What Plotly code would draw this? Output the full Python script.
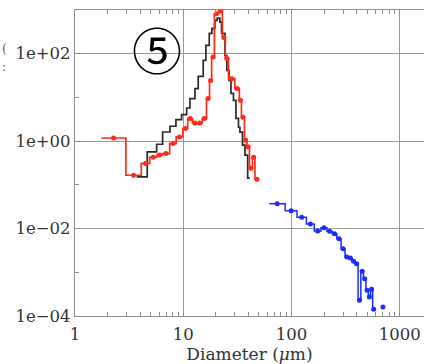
import math
import plotly.graph_objects as go

# ---- data (bin edges in micrometres, values per bin) ----
black_edges = [3.71, 4.65, 5.68, 6.45, 7.54, 8.56, 9.66, 10.75, 11.53, 12.83, 13.76,
               15.3, 16.2, 17.4, 18.4, 19.6, 20.6, 21.8, 22.6, 24.3, 25.3, 26.5, 27.6,
               29.1, 30.7, 32.4, 33.4, 35.3, 37.2, 39.4, 41.3]
black_vals = [0.152, 0.567, 0.85, 1.62, 2.19, 3.11, 4.05, 5.73, 9.4, 15.9, 30.3, 70.3,
              155, 291, 378, 576, 650, 527, 291, 91, 41.6, 24.6, 12.4, 8.6, 3.33, 2.08,
              1.6, 0.81, 0.48, 0.142]

red_edges = [1.75, 2.95, 4.1, 4.9, 5.7, 6.4, 7.5, 8.6, 9.9, 11, 12.2, 13.5, 15, 16.4,
             17.5, 18.3, 19.4, 21.2, 23, 24.5, 26.2, 30, 33, 34.5, 36.8, 38.8, 40.9,
             43.6, 46, 50]
red_vals = [1.18, 0.166, 0.31, 0.43, 0.48, 0.52, 0.88, 1.25, 1.94, 3.28, 2.6, 2.6, 3.28,
            9.4, 24.5, 84, 820, 950, 235, 78, 26.9, 15.9, 8.6, 3.5, 1.05, 0.73, 0.24,
            0.43, 0.135]

blue_edges = [62.5, 87.5, 112.5, 137.5, 162.5, 187.5, 212.5, 237.5, 262.5, 287.5, 312.5,
              337.5, 362.5, 387.5, 412.5, 437.5, 462.5, 487.5, 512.5, 537.5, 562.5,
              587.5, 612.5, 637.5, 662.5, 687.5, 712.5]
blue_vals = [0.0372, 0.0254, 0.0181, 0.0127, 0.00877, 0.0104, 0.00863, 0.0076, 0.00585,
             0.00346, 0.00223, 0.00212, 0.00178, 0.00157, 0.00023, 0.00105, 0.000714,
             0.000388, 0.000273, 0.000409, 0.000143, None, None, None, None, 0.000161]

x_ticks = [1, 10, 100, 1000]
x_ticklabels = ["1", "10", "100", "1000"]
y_ticks = [1e-4, 1e-2, 1, 1e2]
y_ticklabels = ["1e\u221204", "1e\u221202", "1e+00", "1e+02"]


def steps(edges, vals):
    xs, ys = [], []
    for i, v in enumerate(vals):
        if v is None:
            xs.append(None)
            ys.append(None)
        else:
            xs += [edges[i], edges[i + 1]]
            ys += [v, v]
    return xs, ys


def centers(edges, vals):
    cx, cy = [], []
    for i, v in enumerate(vals):
        if v is not None:
            cx.append(math.sqrt(edges[i] * edges[i + 1]))
            cy.append(v)
    return cx, cy


fig = go.Figure()

bx, by = steps(black_edges, black_vals)
fig.add_trace(go.Scatter(x=bx, y=by, mode="lines",
                         line=dict(color="#2a2a2a", width=1.7), hoverinfo="skip"))

rx, ry = steps(red_edges, red_vals)
fig.add_trace(go.Scatter(x=rx, y=ry, mode="lines",
                         line=dict(color="#ff2a1a", width=1.7), hoverinfo="skip"))
rcx, rcy = centers(red_edges, red_vals)
fig.add_trace(go.Scatter(x=rcx, y=rcy, mode="markers",
                         marker=dict(color="#ff2a1a", size=5)))

ux, uy = steps(blue_edges, blue_vals)
fig.add_trace(go.Scatter(x=ux, y=uy, mode="lines",
                         line=dict(color="#1a2cff", width=1.5), hoverinfo="skip"))
ucx, ucy = centers(blue_edges, blue_vals)
fig.add_trace(go.Scatter(x=ucx, y=ucy, mode="markers",
                         marker=dict(color="#1a2cff", size=5)))

x_minor = [m * 10 ** d for d in range(0, 4) for m in range(2, 10)]
y_minor = [1e-3, 1e-1, 10]

fig.update_layout(
    width=424, height=364,
    margin=dict(l=75, r=0, t=10, b=48),
    paper_bgcolor="white", plot_bgcolor="white",
    showlegend=False,
    font=dict(family="DejaVu Serif", size=16.5, color="#333333"),
    xaxis=dict(
        type="log", range=[0, 3.2246],
        tickmode="array", tickvals=x_ticks, ticktext=x_ticklabels,
        ticks="inside", ticklen=6, tickcolor="#8c8c8c", tickwidth=1,
        ticklabelstandoff=3,
        showgrid=True, gridcolor="#9a9a9a", gridwidth=1,
        showline=True, linecolor="#8c8c8c", linewidth=1.2, mirror="allticks",
        zeroline=False,
        minor=dict(tickmode="array", tickvals=x_minor, ticks="inside", ticklen=4,
                   tickcolor="#8c8c8c", showgrid=False),
        title=dict(text="Diameter (<i>\u03bc</i>m)", standoff=1,
                   font=dict(family="DejaVu Serif", size=17, color="#333333")),
    ),
    yaxis=dict(
        type="log", range=[-4, 3],
        tickmode="array", tickvals=y_ticks, ticktext=y_ticklabels,
        ticks="inside", ticklen=6, tickcolor="#8c8c8c", tickwidth=1,
        showgrid=True, gridcolor="#9a9a9a", gridwidth=1,
        showline=True, linecolor="#8c8c8c", linewidth=1.2, mirror=False,
        zeroline=False,
        minor=dict(tickmode="array", tickvals=y_minor, ticks="inside", ticklen=4,
                   tickcolor="#8c8c8c", showgrid=False),
    ),
)

fig.add_annotation(text="\u2464", xref="paper", yref="paper",
                   x=(157 - 75) / 349, y=(316 - 48) / 306,
                   xanchor="center", yanchor="middle", showarrow=False,
                   font=dict(family="Noto Sans CJK JP", size=50, color="black"))

fig.add_annotation(text="(", xref="paper", yref="paper",
                   x=(0 - 75) / 349, y=(316 - 49) / 306,
                   xanchor="left", yanchor="middle", showarrow=False,
                   font=dict(family="DejaVu Serif", size=12, color="#555555"))
fig.add_annotation(text=":", xref="paper", yref="paper",
                   x=(0 - 75) / 349, y=(316 - 67) / 306,
                   xanchor="left", yanchor="middle", showarrow=False,
                   font=dict(family="DejaVu Serif", size=12, color="#555555"))

fig.write_html("out.html")
